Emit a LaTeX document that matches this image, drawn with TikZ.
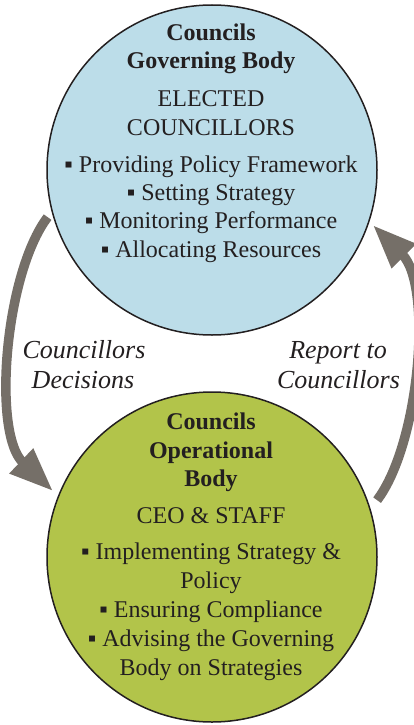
\documentclass[tikz,border=0pt]{standalone}
\usepackage{fontspec}
\setmainfont{Liberation Serif}
\usetikzlibrary{arrows.meta}
\definecolor{govblue}{HTML}{BCDDE9}
\definecolor{opgreen}{HTML}{B2C44A}
\definecolor{arrowgray}{HTML}{756F68}
\definecolor{ink}{HTML}{231F20}
\tikzset{
  body/.style={circle, draw=ink, line width=1.5pt, minimum size=330pt, inner sep=0pt},
  txt/.style={anchor=base, inner sep=0pt, text=ink, font=\fontsize{24}{28}\selectfont},
  ttl/.style={txt, font=\fontsize{24}{28}\selectfont\bfseries},
  lbl/.style={anchor=base, inner sep=0pt, text=ink, font=\fontsize{26}{30}\selectfont\itshape},
  flow/.style={draw=arrowgray, line width=9.5pt, -{Triangle[length=44pt,width=32pt]}, arrowgray}
}
\begin{document}
\begin{tikzpicture}[x=1pt,y=1pt]
\useasboundingbox (0,0) rectangle (414,-725);
\node[body, fill=govblue] (top) at (212,-170) {};
\node[body, fill=opgreen] (bot) at (212,-557) {};
% top circle text
\node[ttl] (t1) at (211,-41) {Councils};
\node[ttl] (t2) at (211,-69) {Governing Body};
\node[txt] (t3) at (211,-106) {ELECTED};
\node[txt] (t4) at (211,-135) {COUNCILLORS};
\node[txt] (t5) at (211,-172) {▪ Providing Policy Framework};
\node[txt] (t6) at (211,-200) {▪ Setting Strategy};
\node[txt] (t7) at (211,-228.5) {▪ Monitoring Performance};
\node[txt] (t8) at (211,-257) {▪ Allocating Resources};
% bottom circle text
\node[ttl] (b1) at (211,-429) {Councils};
\node[ttl] (b2) at (211,-458) {Operational};
\node[ttl] (b3) at (211,-486) {Body};
\node[txt] (b4) at (211,-523) {CEO \& STAFF};
\node[txt] (b5) at (211,-559) {▪ Implementing Strategy \&};
\node[txt] (b6) at (211,-588) {Policy};
\node[txt] (b7) at (211,-617) {▪ Ensuring Compliance};
\node[txt] (b8) at (211,-646) {▪ Advising the Governing};
\node[txt] (b9) at (211,-675) {Body on Strategies};
% labels
\node[lbl] (l1) at (84,-358) {Councillors};
\node[lbl] (l2) at (83,-388) {Decisions};
\node[lbl] (r1) at (338,-358) {Report to};
\node[lbl] (r2) at (338.5,-388) {Councillors};
% connectors
\coordinate (s1) at ([shift={(196:171)}]top.center);
\coordinate (e1) at ([shift={(157.5:172)}]bot.center);
\coordinate (s2) at ([shift={(19:174.6)}]bot.center);
\coordinate (e2) at ([shift={(-18.9:170)}]top.center);
\draw[flow] (s1) .. controls +(-43,-57) and +(-61,58) .. (e1);
\draw[flow] (s2) .. controls +(43,57) and +(60,-60) .. (e2);
\end{tikzpicture}
\end{document}
